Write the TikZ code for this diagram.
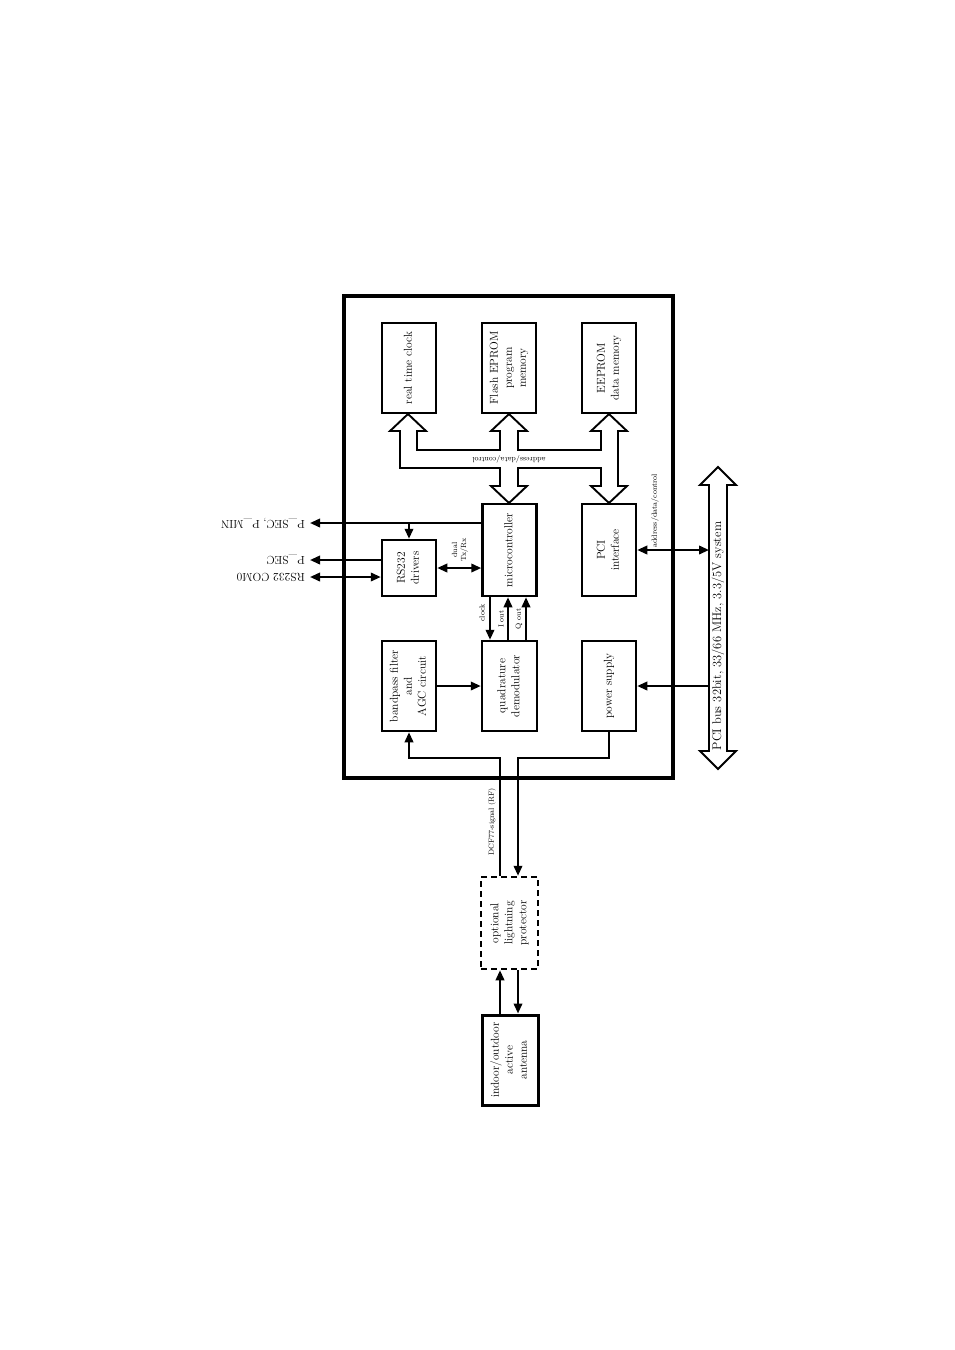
\documentclass[tikz,border=0pt]{standalone}
\usepackage{tikz}
\usetikzlibrary{arrows.meta, calc}

\newcommand{\vtxt}[1]{\rotatebox{90}{\begin{tabular}{@{}c@{}}#1\end{tabular}}}

\begin{document}
\begin{tikzpicture}[
    x=1pt, y=-1pt,
    block/.style={
      rectangle,
      draw,
      line width=2.5pt,
      minimum width=54pt,
      minimum height=90pt,
      inner sep=0pt,
      font=\fontsize{11.5}{14}\selectfont
    },
    optblock/.style={
      block,
      dash pattern=on 6pt off 4pt
    },
    lbl/.style={
      inner sep=0pt,
      font=\fontsize{11.5}{14}\selectfont
    },
    note/.style={
      inner sep=0pt,
      align=center,
      font=\fontsize{7.5}{9}\selectfont
    },
    arrow/.style={
      line width=2.1pt,
      -{Triangle[length=10pt,width=8.5pt]}
    },
    biarrow/.style={
      line width=2.1pt,
      {Triangle[length=10pt,width=8.5pt]}-{Triangle[length=10pt,width=8.5pt]}
    },
    hollow/.style={
      draw,
      line width=1.9pt,
      fill=white
    }
  ]

    \useasboundingbox (0,0) rectangle (955,1350);

    % Board
    \node (board) [draw, line width=3.6pt, minimum width=329pt, minimum height=482pt] at (508.5,537) {};

    % Row 1 (memories, clock)
    \node (rtc) [block] at (409,368) {\vtxt{real time clock}};
    \node (flash) [block] at (509,368) {\vtxt{Flash EPROM\\program\\memory}};
    \node (eeprom) [block] at (609,368) {\vtxt{EEPROM\\data memory}};

    % Row 2
    \node (rs232) [block, minimum height=56pt] at (409,568) {\vtxt{RS232\\drivers}};
    \node (micro) [block, minimum height=92pt] at (509.5,550) {\vtxt{microcontroller}};
    \node (pci) [block, minimum height=92pt] at (609,550) {\vtxt{PCI\\interface}};

    % Row 3
    \node (bpf) [block] at (409,686) {\vtxt{bandpass filter\\and\\AGC circuit}};
    \node (qdem) [block, minimum width=55pt] at (509.5,686) {\vtxt{quadrature\\demodulator}};
    \node (power) [block] at (609,686) {\vtxt{power supply}};

    % Outside the board
    \node (light) [optblock, minimum width=57pt, minimum height=92pt] at (509.5,923) {\vtxt{optional\\lightning\\protector}};
    \node (ant) [block, line width=3pt, minimum width=56pt] at (510,1060) {\vtxt{indoor/outdoor\\active\\antenna}};

    % Internal bus
    \draw [hollow] (408,414) -- (426,431) -- (417,431) -- (417,450) -- (500,450) -- (500,431)
      -- (491,431) -- (509,414) -- (527,431) -- (518,431) -- (518,450) -- (601,450)
      -- (601,431) -- (591,431) -- (609,414) -- (627,431) -- (618,431) -- (618,486)
      -- (627,486) -- (609,503) -- (591,486) -- (601,486) -- (601,468) -- (518,468)
      -- (518,486) -- (527,486) -- (509,503) -- (491,486) -- (500,486) -- (500,468)
      -- (400,468) -- (400,431) -- (390,431) -- cycle;
    \node (buslbl) [note, rotate=180] at (509,459) {address/data/control};

    % PCI bus
    \draw [hollow] (718,467) -- (736,485) -- (727,485) -- (727,751) -- (736,751) -- (718,769)
      -- (700,751) -- (709,751) -- (709,485) -- (700,485) -- cycle;
    \node (pcibus) [lbl, font=\fontsize{12.5}{14}\selectfont, rotate=90] at (718,636) {PCI bus 32bit, 33/66 MHz, 3.3/5V system};
    \coordinate (busL) at (709,600);

    % Labels
    \node (psmin) [lbl, rotate=180, anchor=west, inner xsep=5pt] at (310,523) {P\_SEC, P\_MIN};
    \node (psec) [lbl, rotate=180, anchor=west, inner xsep=5pt] at (310,560) {P\_SEC};
    \node (com0) [lbl, rotate=180, anchor=west, inner xsep=5pt] at (310,577) {RS232 COM0};
    \node (txrx) [note, rotate=90] at (460,550) {dual\\Tx/Rx};
    \node (clk) [note, rotate=90] at (482,613) {clock};
    \node (iout) [note, rotate=90] at (501,619) {I out};
    \node (qout) [note, rotate=90] at (519,619) {Q out};
    \node (pcilbl) [note, rotate=90] at (655,511) {address/data/control};
    \node (dcf) [note, rotate=90] at (492,822) {DCF77-signal (RF)};

    \coordinate (dcfL) at (500,758);
    \coordinate (dcfR) at (518,758);

    % Connections
    \draw [arrow] (micro.west |- psmin.west) -- (psmin.west);
    \draw [arrow] (rs232.north |- psmin.west) -- (rs232.north);
    \draw [arrow] (rs232.west |- psec.west) -- (psec.west);
    \draw [biarrow] (rs232.west |- com0.west) -- (com0.west);
    \draw [biarrow] (rs232.east) -- (rs232.east -| micro.west);
    \draw [arrow] ([xshift=-19.5pt]micro.south) -- ([xshift=-19.5pt]qdem.north);
    \draw [arrow] ([xshift=-1.5pt]qdem.north) -- ([xshift=-1.5pt]micro.south);
    \draw [arrow] ([xshift=16.5pt]qdem.north) -- ([xshift=16.5pt]micro.south);
    \draw [arrow] (bpf.east) -- (qdem.west);
    \draw [biarrow] (pci.east) -- (pci.east -| busL);
    \draw [arrow] (power.east -| busL) -- (power.east);
    \draw [arrow] (light.north -| dcfL) -- (dcfL) -| (bpf.south);
    \draw [arrow] (power.south) |- (dcfR) -- (light.north -| dcfR);
    \draw [arrow] (ant.north -| dcfL) -- (light.south -| dcfL);
    \draw [arrow] (light.south -| dcfR) -- (ant.north -| dcfR);

  \end{tikzpicture}
\end{document}
